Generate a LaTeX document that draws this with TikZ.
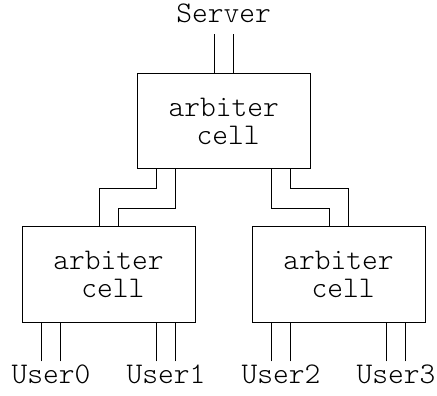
\documentclass[tikz,border=0pt]{standalone}
\usepackage{fontspec}
\setmonofont{Latin Modern Mono Light}

\tikzset{
    cell/.style={draw, line width=1pt, minimum width=173pt, minimum height=95.5pt, inner sep=0pt, align=center, font=\ttfamily\fontsize{30}{27.7}\selectfont},
    port/.style={inner sep=0pt, text height=21.6pt, text depth=11.3pt, font=\ttfamily\fontsize{30}{27.7}\selectfont},
    wire/.style={line width=1pt}
}

\begin{document}
\begin{tikzpicture}[x=1pt, y=1pt]
        \useasboundingbox (0, 0) rectangle (437, 396);
        \node[cell] (top) at (223.7, 274.8) {arbiter\\\hspace{0.3em}cell};
        \node[cell] (left) at (108.5, 121.6) {arbiter\\\hspace{0.3em}cell};
        \node[cell] (right) at (338.5, 121.6) {arbiter\\\hspace{0.3em}cell};
        \node[port, anchor=base] (server) at (223.7, 373.3) {Server};
        \node[port, anchor=base] (user0) at (51, 12.7) {User0};
        \node[port, anchor=base] (user1) at (166, 12.7) {User1};
        \node[port, anchor=base] (user2) at (281, 12.7) {User2};
        \node[port, anchor=base] (user3) at (396, 12.7) {User3};
        \draw[wire] ([xshift=-9.5pt]server.south) -- ([xshift=-9.5pt]top.north);
        \draw[wire] ([xshift=9.5pt]server.south) -- ([xshift=9.5pt]top.north);
        \draw[wire] ([xshift=-67pt]top.south) -- ++(0, -19) -| ([xshift=-9.5pt]left.north);
        \draw[wire] ([xshift=-48pt]top.south) -- ++(0, -38.7) -| ([xshift=9.5pt]left.north);
        \draw[wire] ([xshift=48pt]top.south) -- ++(0, -38.7) -| ([xshift=-9.5pt]right.north);
        \draw[wire] ([xshift=67pt]top.south) -- ++(0, -19) -| ([xshift=9.5pt]right.north);
        \foreach \u/\c in {user0/left, user1/left, user2/right, user3/right} {
            \draw[wire] ([xshift=-9.5pt]\u.north) -- ([xshift=-9.5pt]\u.north |- \c.south);
            \draw[wire] ([xshift=9.5pt]\u.north) -- ([xshift=9.5pt]\u.north |- \c.south);
        }
\end{tikzpicture}
\end{document}
